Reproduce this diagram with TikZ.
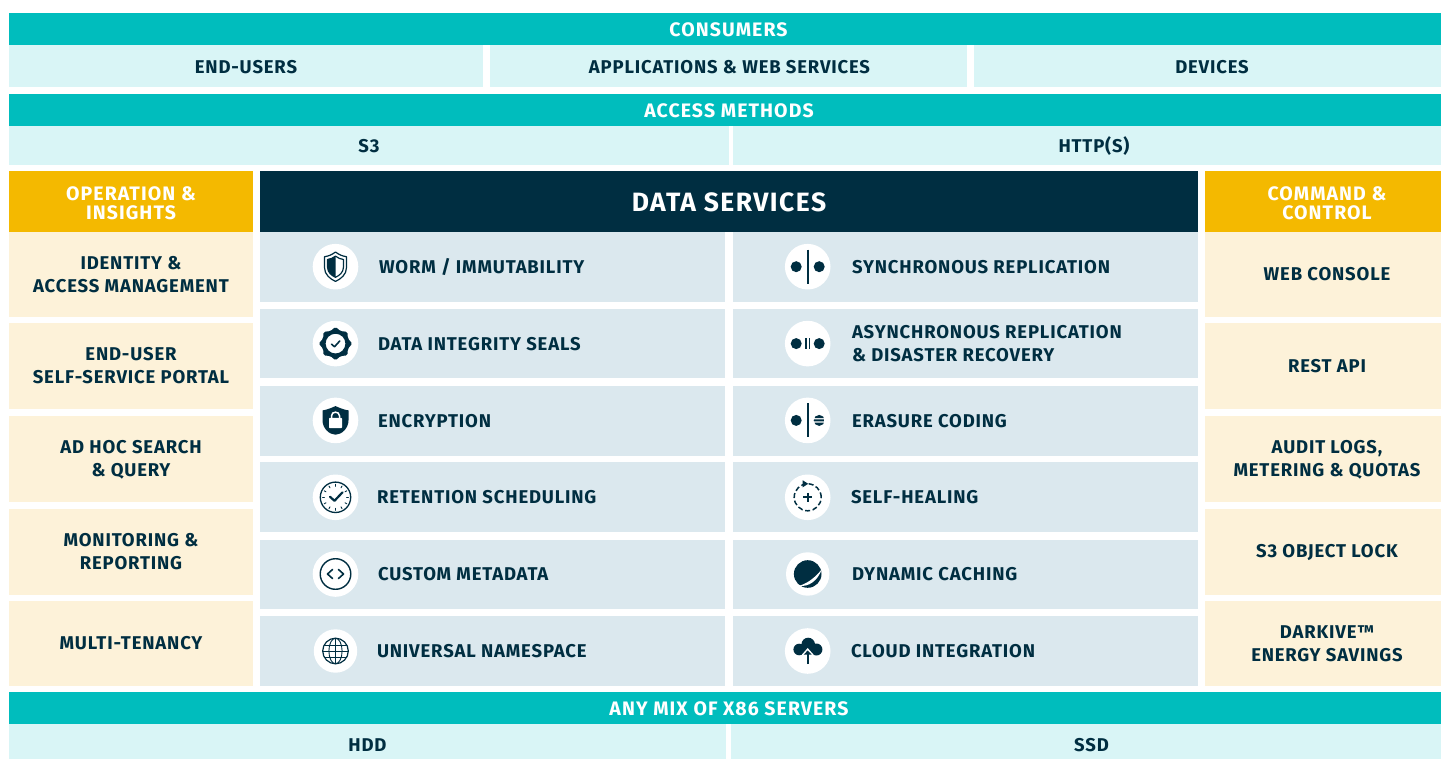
\documentclass[tikz,border=0pt]{standalone}
\usepackage{fontspec}
\setmainfont{Fira Sans}
\definecolor{teal1}{HTML}{00BDBD}
\definecolor{pale1}{HTML}{D9F5F6}
\definecolor{gold1}{HTML}{F4B900}
\definecolor{cream1}{HTML}{FDF2D9}
\definecolor{navy1}{HTML}{002E41}
\definecolor{blue1}{HTML}{DBE8EE}
\newcommand\cell[7]{\node[#2,minimum width={(#5-#3)*1pt},minimum height={(#6-#4)*1pt}] (#1) at ({(#3+#5)/2},{(#4+#6)/2}) {#7};}
\newcommand\ibg[4]{\node[iconbg,minimum size={2*#4*1pt}] (#1) at (#2,#3) {};}
\newcommand\lab[4]{\node[itemlab] (#1) at (#2,#3) {#4};}
\newcommand\off[1]{\hspace*{#1pt}}
\newcommand\shieldp{(0,-14.7) .. controls (3.5,-12) and (7,-10.5) .. (11,-10) -- (11,1) .. controls (11,8) and (5,12.5) .. (0,14.7) .. controls (-5,12.5) and (-11,8) .. (-11,1) -- (-11,-10) .. controls (-7,-10.5) and (-3.5,-12) .. (0,-14.7) -- cycle}
\tikzset{
 base/.style={inner sep=0pt,outer sep=0pt,align=center,font=\fontsize{18.5}{23}\selectfont\bfseries\addfontfeature{LetterSpace=4.5},text=navy1},
 tealhead/.style={base,fill=teal1,text=white,font=\fontsize{19.5}{23}\selectfont\bfseries\addfontfeature{LetterSpace=5.5},text height=15pt,text depth=0pt},
 palecell/.style={base,fill=pale1,text height=14.5pt,text depth=0pt},
 lowcell/.style={palecell,text height=19.7pt},
 goldhead/.style={base,fill=gold1,text=white,font=\fontsize{19.5}{19}\selectfont\bfseries\addfontfeature{LetterSpace=5.5}},
 navyhead/.style={base,fill=navy1,text=white,font=\fontsize{26.5}{28}\selectfont\bfseries\addfontfeature{LetterSpace=5.5},text height=20pt,text depth=0pt},
 creamcell/.style={base,fill=cream1},
 bluecell/.style={base,fill=blue1},
 iconbg/.style={circle,fill=white,inner sep=0pt,outer sep=0pt},
 itemlab/.style={base,anchor=west,align=left},
 ink/.style={draw=navy1,line cap=round,line join=round},
}
\begin{document}
\begin{tikzpicture}[x=1pt,y=-1pt]
\useasboundingbox (0,0) rectangle (1441,759);
% top bands
\cell{cons}{tealhead}{9}{13}{1441}{45}{\off{7}CONSUMERS}
\cell{endu}{palecell}{9}{45}{483}{87}{END-USERS}
\cell{apps}{palecell}{490}{45}{967}{87}{\off{2}APPLICATIONS \& WEB SERVICES}
\cell{devs}{palecell}{974}{45}{1441}{87}{\off{9}DEVICES}
\cell{acc}{tealhead}{9}{94}{1441}{126}{\off{8}ACCESS METHODS}
\cell{sthree}{palecell}{9}{126}{729}{165}{S3}
\cell{http}{palecell}{733}{126}{1441}{165}{\off{14}HTTP(S)}
% headers
\cell{opins}{goldhead}{9}{171}{253}{232}{\rule{0pt}{16.5pt}OPERATION \&\\INSIGHTS}
\cell{dsvc}{navyhead}{260}{171}{1198}{232}{DATA SERVICES}
\cell{cmdc}{goldhead}{1205}{171}{1441}{232}{\rule{0pt}{16.5pt}\off{8}COMMAND \&\\\off{8}CONTROL}
% left column
\cell{l1}{creamcell}{9}{232}{253}{317}{IDENTITY \&\\ACCESS MANAGEMENT}
\cell{l2}{creamcell}{9}{323}{253}{409}{END-USER\\SELF-SERVICE PORTAL}
\cell{l3}{creamcell}{9}{416}{253}{502}{\rule{0pt}{15.5pt}AD HOC SEARCH\\\& QUERY}
\cell{l4}{creamcell}{9}{509}{253}{595}{MONITORING \&\\REPORTING}
\cell{l5}{creamcell}{9}{601}{253}{686}{MULTI-TENANCY}
% right column
\cell{r1}{creamcell}{1205}{232}{1441}{317}{\off{8}WEB CONSOLE}
\cell{r2}{creamcell}{1205}{323}{1441}{409}{\off{8}REST API}
\cell{r3}{creamcell}{1205}{416}{1441}{502}{\rule{0pt}{15.5pt}\off{8}AUDIT LOGS,\\\off{8}METERING \& QUOTAS}
\cell{r4}{creamcell}{1205}{509}{1441}{595}{\off{8}S3 OBJECT LOCK}
\cell{r5}{creamcell}{1205}{601}{1441}{686}{\off{8}DARKIVE™\\\off{8}ENERGY SAVINGS}
% centre cells
\cell{ca}{bluecell}{260}{232}{725}{302}{}
\cell{cb}{bluecell}{260}{309}{725}{378}{}
\cell{cc}{bluecell}{260}{386}{725}{456}{}
\cell{cd}{bluecell}{260}{462}{725}{532}{}
\cell{ce}{bluecell}{260}{540}{725}{609}{}
\cell{cf}{bluecell}{260}{616}{725}{686}{}
\cell{da}{bluecell}{733}{232}{1198}{302}{}
\cell{db}{bluecell}{733}{309}{1198}{378}{}
\cell{dc}{bluecell}{733}{386}{1198}{456}{}
\cell{dd}{bluecell}{733}{462}{1198}{532}{}
\cell{de}{bluecell}{733}{540}{1198}{609}{}
\cell{df}{bluecell}{733}{616}{1198}{686}{}
% labels
\lab{ta}{379}{267}{WORM / IMMUTABILITY}
\lab{tb}{378}{344.5}{DATA INTEGRITY SEALS}
\lab{tc}{378}{421.5}{ENCRYPTION}
\lab{td}{377}{497.5}{RETENTION SCHEDULING}
\lab{te}{378}{574.5}{CUSTOM METADATA}
\lab{tf}{377}{651.5}{UNIVERSAL NAMESPACE}
\lab{ua}{852}{267.5}{SYNCHRONOUS REPLICATION}
\lab{ub}{852}{344}{ASYNCHRONOUS REPLICATION\\\& DISASTER RECOVERY}
\lab{uc}{852}{421.5}{ERASURE CODING}
\lab{ud}{851}{497.5}{SELF-HEALING}
\lab{ue}{852}{574.5}{DYNAMIC CACHING}
\lab{uf}{851}{651.5}{CLOUD INTEGRATION}
% bottom bands
\cell{srv}{tealhead}{9}{692}{1441}{724}{\off{8}ANY MIX OF X86 SERVERS}
\cell{hdd}{lowcell}{9}{724}{726}{759}{HDD}
\cell{ssd}{lowcell}{731}{724}{1441}{759}{\off{11}SSD}
% icon discs
\ibg{ia}{335.5}{266.7}{22.8}
\ibg{ib}{335.5}{343.6}{22.8}
\ibg{ic}{335.5}{420.4}{22.8}
\ibg{id}{335.5}{497.3}{22.8}
\ibg{ie}{335.5}{574}{22.8}
\ibg{if}{335.5}{651}{21.7}
\ibg{ja}{807.7}{266.7}{22.8}
\ibg{jb}{807.7}{343.6}{22.8}
\ibg{jc}{807.7}{420.4}{22.8}
\ibg{jd}{807.7}{497.3}{22.8}
\ibg{je}{807.7}{574}{21.7}
\ibg{jf}{807.7}{651}{22.8}
% shield
\begin{scope}[shift={(ia)}]
\draw[ink,line width=1.2pt] \shieldp;
\begin{scope}[scale=.72]
\draw[ink,line width=1.2pt] \shieldp;
\clip (-12,-16) rectangle (0,16);
\fill[navy1] \shieldp;
\end{scope}
\end{scope}
% seal
\begin{scope}[shift={(ib)}]
\fill[navy1,rounded corners=1.6pt] (0:16.8)
 \foreach \a in {22.5,45,...,337.5}{ -- ({\a}:{mod(\a,45)==0 ? 16.8 : 13.4})} -- cycle;
\fill[white] (0,0) circle (10.6pt);
\draw[ink,line width=1.4pt] (0,0) circle (10.6pt);
\draw[ink,line width=1.6pt] (-4,0.5) -- (-1,3.2) -- (4.2,-2.6);
\end{scope}
% lock shield
\begin{scope}[shift={(ic)}]
\fill[navy1] (0,-14.3) .. controls (4,-12.5) and (9,-10.5) .. (13,-10) -- (13,0) .. controls (13,8) and (6,14.3) .. (0,14.3) .. controls (-6,14.3) and (-13,8) .. (-13,0) -- (-13,-10) .. controls (-9,-10.5) and (-4,-12.5) .. (0,-14.3) -- cycle;
\fill[white,rounded corners=.8pt] (-6.5,-2.5) rectangle (6.5,7.7);
\draw[white,line width=1.5pt] (-4,-2.5) -- (-4,-4.5) .. controls (-4,-9.5) and (4,-9.5) .. (4,-4.5) -- (4,-2.5);
\end{scope}
% clock
\begin{scope}[shift={(id)}]
\draw[ink,line width=1.3pt] (0,0) circle (15.2pt);
\foreach \a in {0,30,...,330}{\draw[ink,line width=.9pt] (\a:11) -- (\a:13);}
\draw[ink,line width=2.2pt] (-5.5,-.5) -- (-1,3.5) -- (7,-5);
\end{scope}
% code
\begin{scope}[shift={(ie)}]
\draw[ink,line width=1.4pt] (0,0) circle (15.3pt);
\draw[ink,line width=1.6pt] (-3,-4.5) -- (-8,0) -- (-3,4.5);
\draw[ink,line width=1.6pt] (3,-4.5) -- (8,0) -- (3,4.5);
\end{scope}
% globe
\begin{scope}[shift={(if)}]
\draw[ink,line width=1.2pt] (0,0) circle (12.8pt);
\draw[ink,line width=.9pt] (0,-12.8) -- (0,12.8) (0,0) ellipse (6.6pt and 12.8pt);
\draw[ink,line width=.9pt] (-12.8,0) -- (12.8,0) (-11.2,-6) -- (11.2,-6) (-11.2,6) -- (11.2,6);
\end{scope}
% sync
\begin{scope}[shift={(ja)}]
\fill[navy1] (-11.5,0) circle (5.5pt) (11.5,0) circle (5.5pt);
\draw[navy1,line width=2pt] (0,-17) -- (0,17);
\end{scope}
% async
\begin{scope}[shift={(jb)}]
\fill[navy1] (-11.5,0) circle (5.5pt) (11.5,0) circle (5.5pt);
\draw[navy1,line width=1.4pt] (-1.9,-5.5) -- (-1.9,5.5) (1.9,-5.5) -- (1.9,5.5);
\end{scope}
% erasure
\begin{scope}[shift={(jc)}]
\fill[navy1] (-11.5,0) circle (5.5pt);
\draw[navy1,line width=2pt] (0,-17) -- (0,17);
\begin{scope}
\clip (6,-5.5) rectangle (17,-2.2) (6,-1) rectangle (17,1) (6,2.2) rectangle (17,5.5);
\fill[navy1] (11.5,0) circle (5.5pt);
\end{scope}
\end{scope}
% healing
\begin{scope}[shift={(jd)}]
\draw[navy1,line width=1.5pt,dash pattern=on 5pt off 2.6pt] (0,0) circle (13.5pt);
\fill[navy1] (-5,-17) -- (.5,-13.5) -- (-5,-10) -- cycle;
\draw[navy1,line width=1.7pt] (-4.5,0) -- (4.5,0) (0,-4.5) -- (0,4.5);
\end{scope}
% caching
\begin{scope}[shift={(je)}]
\fill[navy1] (0,0) circle (13.8pt);
\fill[white] (14.2,-5) .. controls (9,2) and (1,9) .. (-8.5,11.8) .. controls (1,13) and (10,7) .. (14.2,-5) -- cycle;
\end{scope}
% cloud
\begin{scope}[shift={(jf)}]
\fill[navy1] (.5,-6.5) circle (6.8pt) (-8.5,-1.5) circle (5.8pt) (8.7,-1.5) circle (6pt);
\fill[navy1] (-8.5,-4) rectangle (8.7,4.3);
\draw[white,line width=5pt] (0,13) -- (0,0);
\fill[white] (-6.5,4.4) -- (0,-3) -- (6.5,4.4) -- cycle;
\draw[navy1,line width=1.8pt] (0,13) -- (0,2);
\fill[navy1] (-4,3.6) -- (0,-.5) -- (4,3.6) -- cycle;
\end{scope}
\end{tikzpicture}
\end{document}
